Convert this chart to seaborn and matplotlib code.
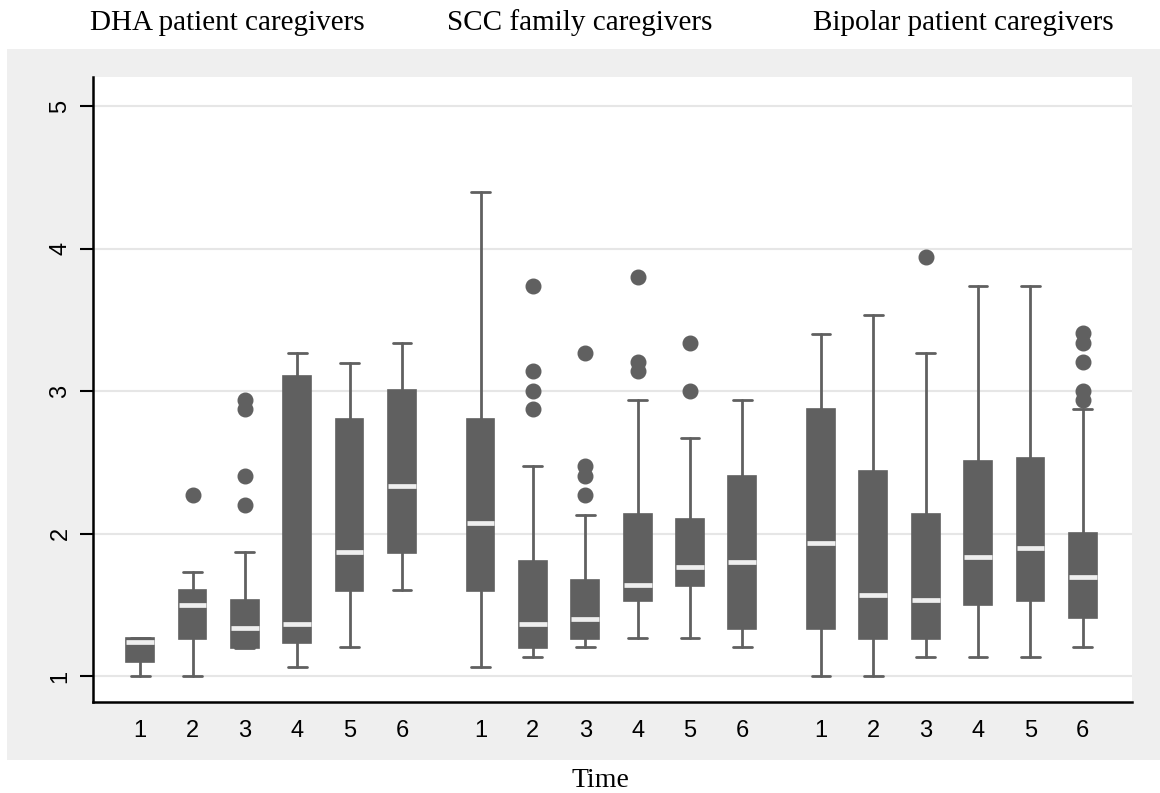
import matplotlib
matplotlib.use("Agg")
import matplotlib.pyplot as plt
from matplotlib.patches import Rectangle
import seaborn as sns

# ---- data ----
groups = ["DHA patient caregivers", "SCC family caregivers", "Bipolar patient caregivers"]
times = ["1", "2", "3", "4", "5", "6"]

# per group: lists over time 1..6
whislo = [
    [1.00, 1.00, 1.20, 1.065, 1.203, 1.603],
    [1.065, 1.133, 1.201, 1.264, 1.264, 1.201],
    [1.00, 1.00, 1.135, 1.135, 1.135, 1.203],
]
q1 = [
    [1.10, 1.259, 1.196, 1.231, 1.598, 1.867],
    [1.598, 1.199, 1.259, 1.528, 1.633, 1.329],
    [1.332, 1.262, 1.262, 1.500, 1.530, 1.406],
]
med = [
    [1.236, 1.497, 1.334, 1.367, 1.869, 2.334],
    [2.072, 1.367, 1.402, 1.636, 1.766, 1.801],
    [1.934, 1.568, 1.535, 1.836, 1.899, 1.698],
]
q3 = [
    [1.268, 1.605, 1.535, 3.107, 2.803, 3.004],
    [2.803, 1.804, 1.675, 2.135, 2.100, 2.406],
    [2.871, 2.439, 2.135, 2.509, 2.532, 2.004],
]
whishi = [
    [1.268, 1.733, 1.869, 3.268, 3.200, 3.338],
    [4.399, 2.472, 2.133, 2.934, 2.670, 2.934],
    [3.401, 3.537, 3.268, 3.738, 3.738, 2.871],
]
outliers = [
    [[], [2.27], [2.203, 2.404, 2.871, 2.934], [], [], []],
    [[], [3.738, 3.142, 3.002, 2.873], [3.27, 2.474, 2.406, 2.271],
     [3.803, 3.203, 3.144], [3.338, 2.999], []],
    [[], [], [3.938], [], [], [3.406, 3.338, 3.205, 2.997, 2.934]],
]
yticks = [1, 2, 3, 4, 5]
xlabel = "Time"

# ---- style ----
sns.set_theme(style="whitegrid")
plt.rcParams["font.family"] = ["Liberation Sans", "DejaVu Sans"]

W, H = 1160, 793
fig = plt.figure(figsize=(W / 100, H / 100), dpi=100)
fig.patch.set_facecolor("white")
fig.patches.append(Rectangle((7 / W, 1 - 760 / H), 1 - 7 / W, (760 - 49) / H,
                             transform=fig.transFigure, facecolor="#efefef",
                             edgecolor="none", zorder=-5))

ax = fig.add_axes([93 / W, 1 - 702 / H, (1132 - 93) / W, (702 - 77) / H])
ax.set_zorder(2)
ax.set_facecolor("white")

box_color = "#606060"
stats, positions, labels = [], [], []
for g in range(len(groups)):
    for t in range(len(times)):
        stats.append(dict(whislo=whislo[g][t], q1=q1[g][t], med=med[g][t],
                          q3=q3[g][t], whishi=whishi[g][t], fliers=outliers[g][t]))
        positions.append(1 + g * 6.5 + t)
        labels.append(times[t])

ax.bxp(stats, positions=positions, widths=0.53, capwidths=0.36,
       patch_artist=True, showfliers=True,
       boxprops=dict(facecolor=box_color, edgecolor=box_color, linewidth=1.2),
       medianprops=dict(color="#eeeeee", linewidth=3.4),
       whiskerprops=dict(color=box_color, linewidth=2),
       capprops=dict(color=box_color, linewidth=2),
       flierprops=dict(marker="o", markerfacecolor=box_color,
                       markeredgecolor=box_color, markersize=10.5))

ax.set_xlim(0.1, 19.94)
ax.set_ylim(0.818, 5.204)
ax.set_xticks(positions)
ax.set_xticklabels(labels)
ax.set_yticks(yticks)
ax.set_yticklabels([str(v) for v in yticks], rotation=90, va="center")
ax.tick_params(axis="x", length=0, pad=13, labelsize=17, labelcolor="black")
ax.tick_params(axis="y", length=9.5, width=1.5, color="black", pad=6, left=True,
               labelsize=17, labelcolor="black")

ax.grid(axis="y", color="#e6e6e6", linewidth=1.5)
ax.grid(axis="x", visible=False)
ax.set_axisbelow(True)
for side in ["top", "right"]:
    ax.spines[side].set_visible(False)
for side in ["left", "bottom"]:
    ax.spines[side].set_visible(True)
    ax.spines[side].set_color("black")
    ax.spines[side].set_linewidth(1.8)

serif = ["Liberation Serif", "DejaVu Serif"]
title_x = [227, 580, 963]
for name, xc in zip(groups, title_x):
    fig.text(xc / W, 1 - 30 / H, name, ha="center", va="baseline",
             fontsize=21, family=serif, color="black")
fig.text(600 / W, 1 - 787 / H, xlabel, ha="center", va="baseline",
         fontsize=20, family=serif, color="black")

fig.savefig("out.png", dpi=100)
